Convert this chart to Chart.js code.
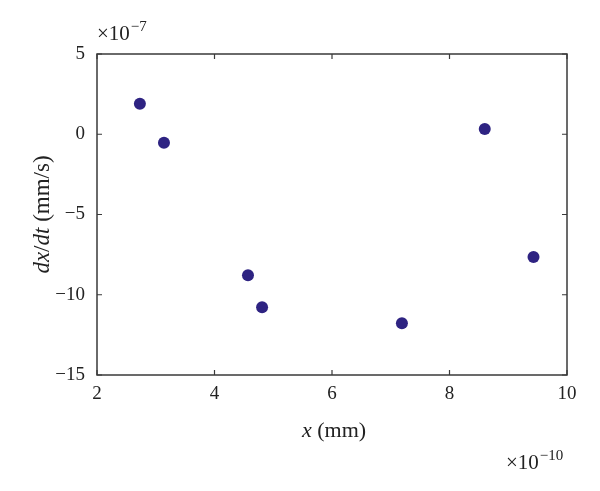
<!DOCTYPE html>
<html>
<head>
<meta charset="utf-8">
<script src="https://cdn.jsdelivr.net/npm/chart.js@4"></script>
<style>
  html, body { margin: 0; padding: 0; background: #fff; }
  #wrap { width: 600px; height: 491px; }
</style>
</head>
<body>
<div id="wrap"><canvas id="myChart" width="600" height="491"></canvas></div>
<script>
// valores (x en 1e-10 mm, dx/dt en 1e-7 mm/s)
var posX = [2.73, 3.14, 4.57, 4.81, 7.19, 8.60, 9.43];
var velY = [1.9, -0.53, -8.79, -10.78, -11.77, 0.32, -7.65];
var ticksX = [2, 4, 6, 8, 10];
var ticksY = [5, 0, -5, -10, -15];

var serif = '"Liberation Serif", "DejaVu Serif", serif';
var colorPunto = '#2e2382';

var puntos = posX.map(function (x, i) {
    return { x: x, y: velY[i] };
});

function menos(v) {
    return String(v).replace('-', '\u2212');
}

// dibuja texto con partes en cursiva
function textoMixto(ctx, partes, x, y, size) {
    var total = 0;
    partes.forEach(function (p) {
        ctx.font = (p[1] ? 'italic ' : '') + size + 'px ' + serif;
        total += ctx.measureText(p[0]).width;
    });
    var cx = x - total / 2;
    partes.forEach(function (p) {
        ctx.font = (p[1] ? 'italic ' : '') + size + 'px ' + serif;
        ctx.fillText(p[0], cx, y);
        cx += ctx.measureText(p[0]).width;
    });
}

// "×10" con exponente
function multiplicador(ctx, exp, x, y) {
    ctx.font = '21px ' + serif;
    ctx.fillText('\u00d710', x, y);
    var w = ctx.measureText('\u00d710').width;
    ctx.font = '15px ' + serif;
    ctx.fillText(exp, x + w + 1, y - 9);
}

var marco = {
    id: 'marco',
    afterDraw: function (chart) {
        var ctx = chart.ctx;
        var a = chart.chartArea;
        var sx = chart.scales.x;
        var sy = chart.scales.y;
        ctx.save();
        ctx.strokeStyle = '#3a3a3a';
        ctx.lineWidth = 1.5;
        ctx.strokeRect(a.left, a.top, a.right - a.left, a.bottom - a.top);
        ctx.lineWidth = 1.2;
        ctx.beginPath();
        ticksX.forEach(function (v) {
            var px = sx.getPixelForValue(v);
            ctx.moveTo(px, a.bottom); ctx.lineTo(px, a.bottom - 5);
            ctx.moveTo(px, a.top); ctx.lineTo(px, a.top + 5);
        });
        ticksY.forEach(function (v) {
            var py = sy.getPixelForValue(v);
            ctx.moveTo(a.left, py); ctx.lineTo(a.left + 5, py);
            ctx.moveTo(a.right, py); ctx.lineTo(a.right - 5, py);
        });
        ctx.stroke();

        ctx.fillStyle = '#222';
        ctx.textBaseline = 'alphabetic';
        ctx.textAlign = 'left';
        // titulo eje x
        textoMixto(ctx, [['x', true], [' (mm)', false]], (a.left + a.right) / 2 + 2, 437, 22);
        // titulo eje y
        ctx.save();
        ctx.translate(49, (a.top + a.bottom) / 2);
        ctx.rotate(-Math.PI / 2);
        textoMixto(ctx, [['dx', true], ['/', false], ['dt', true], [' (mm/s)', false]], 0, 0, 23);
        ctx.restore();

        // multiplicadores
        multiplicador(ctx, '\u22127', 97, 40);
        multiplicador(ctx, '\u221210', 506, 469);
        ctx.restore();
    }
};

var ctx = document.getElementById('myChart').getContext('2d');
new Chart(ctx, {
    type: 'scatter',
    data: {
        datasets: [
            {
                data: puntos,
                backgroundColor: colorPunto,
                borderColor: colorPunto,
                pointRadius: 6,
                pointHoverRadius: 6,
                borderWidth: 0
            }
        ]
    },
    options: {
        responsive: false,
        animation: false,
        layout: { padding: { left: 0, top: 54, right: 33, bottom: 0 } },
        plugins: {
            legend: { display: false },
            tooltip: { enabled: false }
        },
        scales: {
            x: {
                type: 'linear',
                min: 2,
                max: 10,
                afterFit: function (s) { s.height = 116; },
                afterBuildTicks: function (s) {
                    s.ticks = ticksX.map(function (v) { return { value: v }; });
                },
                grid: { display: false, drawTicks: false },
                border: { display: false },
                ticks: {
                    color: '#222',
                    padding: 8,
                    maxRotation: 0,
                    font: { family: serif, size: 19 }
                }
            },
            y: {
                type: 'linear',
                min: -15,
                max: 5,
                afterFit: function (s) { s.width = 97; },
                afterBuildTicks: function (s) {
                    s.ticks = ticksY.map(function (v) { return { value: v }; });
                },
                grid: { display: false, drawTicks: false },
                border: { display: false },
                ticks: {
                    color: '#222',
                    padding: 12,
                    font: { family: serif, size: 19 },
                    callback: function (v) { return menos(v); }
                }
            }
        }
    },
    plugins: [marco]
});
</script>
</body>
</html>
